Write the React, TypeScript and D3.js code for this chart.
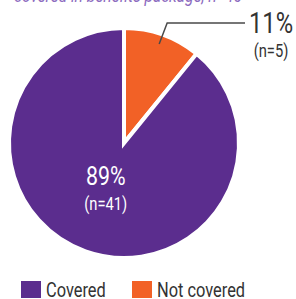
import React from "react";
import * as d3 from "d3";

const categories = ["Not covered", "Covered"];
const counts = [5, 41];
const percents = ["11%", "89%"];
const colors = ["#f26126", "#5b2d8e"];
const legendOrder = ["Covered", "Not covered"];

const W = 296;
const H = 299;
const FONT = "Roboto, 'Liberation Sans', sans-serif";
const SQUEEZE = 0.82;

type TProps = {
  x: number;
  y: number;
  size: number;
  fill: string;
  anchor?: "start" | "middle" | "end";
  italic?: boolean;
  children: React.ReactNode;
};

// condensed text: Roboto squeezed horizontally
function CText({ x, y, size, fill, anchor = "start", italic, children }: TProps) {
  return (
    <g transform={`translate(${x},${y}) scale(${SQUEEZE},1)`}>
      <text
        textAnchor={anchor}
        fontSize={size}
        fill={fill}
        fontStyle={italic ? "italic" : "normal"}
      >
        {children}
      </text>
    </g>
  );
}

function App() {
  const cx = 124;
  const cy = 143;
  const r = 115;

  const pie = d3
    .pie<number>()
    .sort(null)
    .value(d => d);
  const arcs = pie(counts);
  const arc = d3.arc<d3.PieArcDatum<number>>().innerRadius(0).outerRadius(r);

  const color = d3.scaleOrdinal<string, string>().domain(categories).range(colors);

  // leader line for the small slice
  const small = arcs[0];
  const mid = (small.startAngle + small.endAngle) / 2;
  const p0: [number, number] = [cx + 105 * Math.sin(mid), cy - 105 * Math.cos(mid)];
  const p1: [number, number] = [p0[0] + 8, 23];
  const p2: [number, number] = [245, 23];
  const line = d3.line();

  // big slice label
  const big = arcs[1];
  const bigC = arc.centroid(big);
  const bx = cx + bigC[0] + 1;

  return (
    <svg
      width={W}
      height={H}
      style={{ position: "absolute", left: 0, top: 0, background: "#fff" }}
      fontFamily={FONT}
    >
      <CText x={14} y={2} size={19} fill="#8d6cc0" italic>
        covered in benefits package, n=46
      </CText>
      <g transform={`translate(${cx},${cy})`}>
        {arcs.map((a, i) => (
          <path
            key={categories[i]}
            d={arc(a) || ""}
            fill={color(categories[i])}
            stroke="#fff"
            strokeWidth={4}
            strokeLinejoin="miter"
          />
        ))}
      </g>
      <CText x={bx} y={185} size={26} fill="#fff" anchor="middle">
        {percents[1]}
      </CText>
      <CText x={bx} y={210} size={18} fill="#fff" anchor="middle">
        (n={counts[1]})
      </CText>
      <path d={line([p0, p1, p2]) || ""} fill="none" stroke="#4a4a4a" strokeWidth={1.5} />
      <CText x={271} y={33} size={29} fill="#333" anchor="middle">
        {percents[0]}
      </CText>
      <CText x={271} y={57} size={18} fill="#333" anchor="middle">
        (n={counts[0]})
      </CText>
      {legendOrder.map((name, i) => {
        const x = i === 0 ? 21 : 132;
        return (
          <g key={name}>
            <rect x={x} y={281} width={20} height={17} fill={color(name)} />
            <CText x={x + 25} y={297} size={20} fill="#333">
              {name}
            </CText>
          </g>
        );
      })}
    </svg>
  );
}

export default App;
